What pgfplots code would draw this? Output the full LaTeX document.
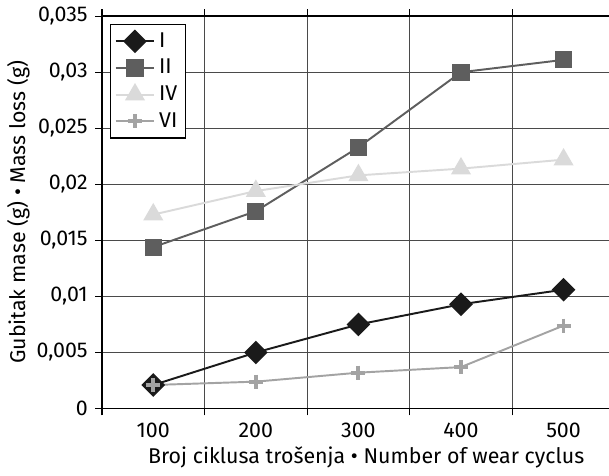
\documentclass[border=0pt]{standalone}
\usepackage{fontspec}
\setmainfont{Fira Sans}
\usepackage{pgfplots}
\pgfplotsset{compat=1.18}

\definecolor{cI}{HTML}{1A1A1A}
\definecolor{cII}{HTML}{5E5E5E}
\definecolor{cIV}{HTML}{DADADA}
\definecolor{cVI}{HTML}{A3A3A3}
\definecolor{gridc}{HTML}{4A4A4A}

\begin{document}
\fontsize{11}{13}\selectfont
\begin{tikzpicture}
\begin{axis}[
    name=ax,
    scale only axis,
    width=264pt, height=202pt,
    xmin=0.5, xmax=5.5,
    ymin=0, ymax=0.035,
    xtick={1,2,3,4,5},
    xticklabels={100,200,300,400,500},
    major x tick style={draw=none},
    minor xtick={0.5,1.5,2.5,3.5,4.5,5.5},
    minor x tick style={black, line width=0.6pt},
    xminorgrids=true,
    minor grid style={gridc, line width=0.6pt},
    ytick={0,0.005,0.01,0.015,0.02,0.025,0.03,0.035},
    ymajorgrids=true,
    major grid style={gridc, line width=0.6pt},
    tick align=outside,
    major tick length=3.5pt,
    minor tick length=3.5pt,
    y tick style={black, line width=0.6pt},
    axis line style={black, line width=0.7pt},
    scaled y ticks=false,
    yticklabel style={/pgf/number format/.cd, fixed, precision=3, use comma, assume math mode=true},
    xticklabel style={/pgf/number format/assume math mode=true},
    tick label style={font=\fontsize{11}{13}\selectfont},
    label style={font=\fontsize{11}{13}\selectfont},
    xlabel={Broj ciklusa trošenja • Number of wear cyclus},
    ylabel={Gubitak mase (g) • Mass loss (g)},
    xlabel style={at={(axis description cs:0.5,0)}, anchor=north, yshift=-16pt, xshift=4pt},
    ylabel style={yshift=-4pt},
    legend style={at={(0.016,0.98)}, anchor=north west, draw=black, line width=0.6pt,
        font=\fontsize{11}{12}\selectfont, row sep=0.5pt, inner sep=2pt},
    legend cell align=left,
    legend image code/.code={\draw[mark repeat=2, mark phase=2]
        plot coordinates {(0cm,0cm) (0.35cm,0cm) (0.7cm,0cm)};},
]
\addplot[cI, line width=1pt, mark=square*, mark size=3.8pt, mark options={rotate=45, fill=cI}]
  coordinates {(1,0.0021) (2,0.0050) (3,0.0075) (4,0.0093) (5,0.0106)};
\addplot[cII, line width=1pt, mark=square*, mark size=3.9pt, mark options={fill=cII}]
  coordinates {(1,0.0144) (2,0.0176) (3,0.0233) (4,0.0300) (5,0.0311)};
\addplot[cIV, line width=1pt, mark=triangle*, mark size=5pt, mark options={fill=cIV}]
  coordinates {(1,0.0173) (2,0.0194) (3,0.0208) (4,0.0214) (5,0.0222)};
\addplot[cVI, line width=1pt, mark=+, mark size=3.6pt, mark options={line width=2pt}]
  coordinates {(1,0.0021) (2,0.0024) (3,0.0032) (4,0.0037) (5,0.0074)};
\legend{I, II, IV, VI}
\end{axis}
\coordinate (sw) at (current bounding box.south west);
\coordinate (ne) at (current bounding box.north east);
\pgfresetboundingbox
\useasboundingbox (sw) rectangle ([xshift=-3pt]ax.east |- ne);
\end{tikzpicture}
\end{document}
